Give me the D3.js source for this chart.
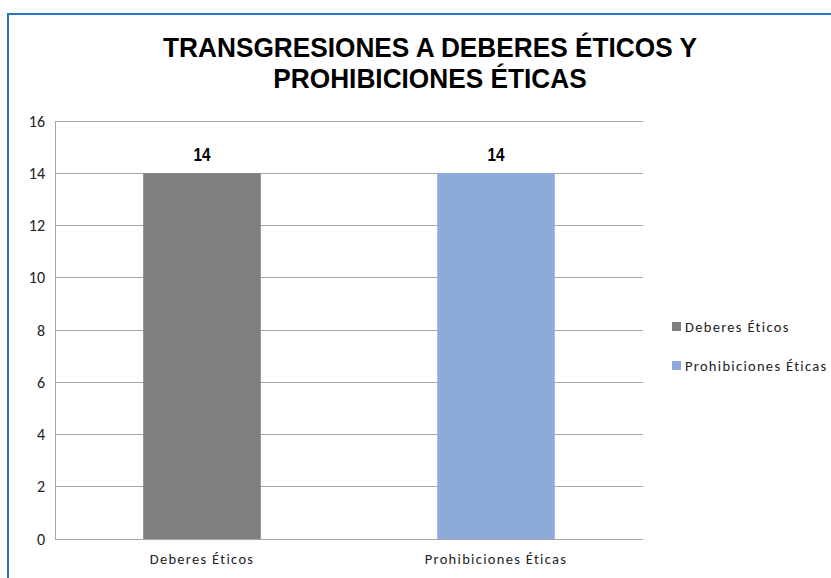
<!DOCTYPE html>
<html>
<head>
<meta charset="utf-8">
<script src="https://cdn.jsdelivr.net/npm/d3@7"></script>
<style>
    body { margin: 0; background: #fff; }
    .tick-label { font-family: Carlito, "Open Sans", "Liberation Sans", sans-serif; font-size: 14.5px; fill: #222; }
    .y-label { font-size: 16px; }
    .spaced { letter-spacing: 1.3px; }
</style>
</head>
<body>
<div id="chart"></div>
<script>
const categories = ["Deberes Éticos", "Prohibiciones Éticas"];
const values = [14, 14];
const colors = ["#7f7f7f", "#8eaadb"];
const yTicks = [0, 2, 4, 6, 8, 10, 12, 14, 16];
const titleLines = ["TRANSGRESIONES A DEBERES ÉTICOS Y", "PROHIBICIONES ÉTICAS"];

const W = 831, H = 578;
const margin = {top: 121, right: 188, bottom: 39, left: 55};
const width = W - margin.left - margin.right;
const height = H - margin.top - margin.bottom;
const narrowFont = "'Liberation Sans Narrow', 'Arial Narrow', 'Liberation Sans', sans-serif";

const svg = d3.select("#chart").append("svg")
    .attr("width", W)
    .attr("height", H);

// chart frame
svg.append("rect")
    .attr("x", 8).attr("y", 14)
    .attr("width", W + 10).attr("height", H + 10)
    .attr("fill", "none")
    .attr("stroke", "#2a73c4")
    .attr("stroke-width", 2);

// title, squeezed to the narrow look of the original
const titleCx = 430;
const title = svg.append("g")
    .attr("transform", `translate(${titleCx},0)`);
const titleText = title.selectAll("text")
    .data(titleLines)
    .join("text")
    .attr("x", 0)
    .attr("y", (d, i) => 57 + i * 31)
    .attr("text-anchor", "middle")
    .style("font-family", narrowFont)
    .style("font-weight", "bold")
    .style("font-size", "28px")
    .attr("fill", "#000")
    .text(d => d);
const firstLen = titleText.node().getComputedTextLength();
const sx = 534 / firstLen;
title.attr("transform", `translate(${titleCx},0) scale(${sx},1)`);

const chart = svg.append("g")
    .attr("transform", `translate(${margin.left},${margin.top})`);

const x = d3.scaleBand()
    .domain(categories)
    .range([0, width])
    .paddingInner(0.6)
    .paddingOuter(0.3);

const y = d3.scaleLinear()
    .domain([0, 16])
    .range([height, 0]);

// gridlines
chart.append("g")
    .selectAll("line")
    .data(yTicks)
    .join("line")
    .attr("x1", 0).attr("x2", width)
    .attr("y1", d => y(d)).attr("y2", d => y(d))
    .attr("stroke", "#a6a6a6")
    .attr("stroke-width", 1)
    .attr("shape-rendering", "crispEdges");

chart.append("line")
    .attr("x1", 0).attr("x2", 0)
    .attr("y1", 0).attr("y2", height)
    .attr("stroke", "#a6a6a6")
    .attr("shape-rendering", "crispEdges");

// y axis labels
const yAxis = d3.axisLeft(y).tickValues(yTicks).tickSize(0).tickPadding(10);
chart.append("g")
    .call(yAxis)
    .call(g => g.select(".domain").remove())
    .call(g => g.selectAll("text").attr("class", "tick-label y-label"));

// x axis labels
const xAxis = d3.axisBottom(x).tickSize(0).tickPadding(15);
chart.append("g")
    .attr("transform", `translate(0,${height})`)
    .call(xAxis)
    .call(g => g.select(".domain").remove())
    .call(g => g.selectAll("text").attr("class", "tick-label spaced"));

// bars
chart.selectAll(".bar")
    .data(values)
    .join("rect")
    .attr("class", "bar")
    .attr("x", (d, i) => x(categories[i]))
    .attr("y", d => y(d))
    .attr("width", x.bandwidth())
    .attr("height", d => height - y(d))
    .attr("fill", (d, i) => colors[i]);

// value labels
chart.selectAll(".val")
    .data(values)
    .join("text")
    .attr("class", "val")
    .attr("transform", (d, i) => `translate(${x(categories[i]) + x.bandwidth() / 2},${y(d) - 12}) scale(0.85,1)`)
    .attr("text-anchor", "middle")
    .style("font-family", narrowFont)
    .style("font-weight", "bold")
    .style("font-size", "18px")
    .text(d => d);

// legend
const legend = svg.append("g")
    .attr("transform", "translate(672,327)");

const item = legend.selectAll("g")
    .data(categories)
    .join("g")
    .attr("transform", (d, i) => `translate(0,${i * 39})`);

item.append("rect")
    .attr("x", 0).attr("y", -5)
    .attr("width", 9).attr("height", 9)
    .attr("fill", (d, i) => colors[i]);

item.append("text")
    .attr("class", "tick-label spaced")
    .attr("x", 13)
    .attr("y", 0)
    .attr("dy", "0.35em")
    .text(d => d);
</script>
</body>
</html>
